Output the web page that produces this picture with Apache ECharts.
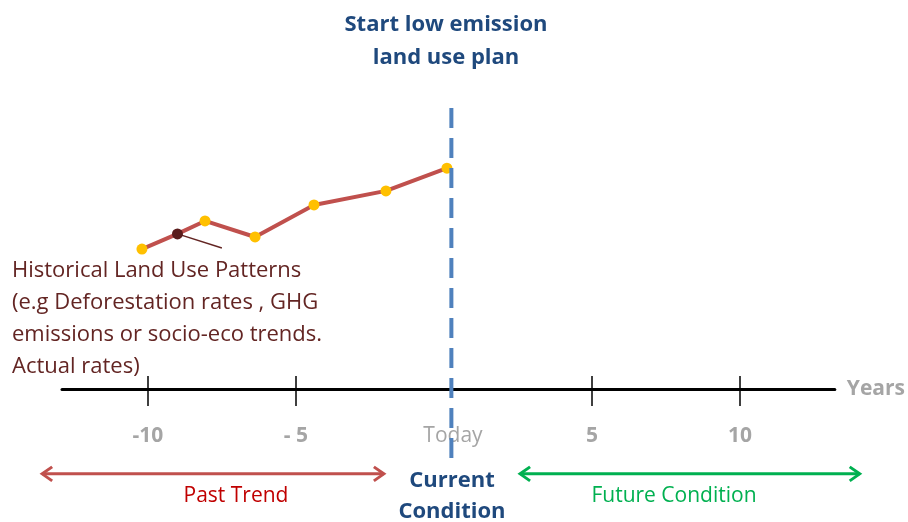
<!DOCTYPE html>
<html><head><meta charset="utf-8">
<script src="https://cdn.jsdelivr.net/npm/echarts@6/dist/echarts.min.js"></script>
<style>html,body{margin:0;padding:0;background:#fff}#c{width:908px;height:522px}</style>
</head><body><div id="c"></div>
<script>
// ---- data ----
const years = [-10.2, -9.0, -8.07, -6.38, -4.39, -1.96, 0.1];
const values = [49.8, 55.2, 59.8, 54.1, 65.5, 70.5, 78.6];
const tickValues = [-10, -5, 5, 10];
const labelValues = [-10, -5, 0, 5, 10];
const tickLabels = ['-10', '- 5', 'Today', '5', '10'];
const todayValue = 0;
const planStart = 0.25;
const highlightIndex = 1;
const pastRange = [-13.57, -2.03];
const futureRange = [2.57, 14.04];

const FONT = '"Open Sans", Lato, sans-serif';
const chart = echarts.init(document.getElementById('c'), null, {renderer: 'canvas'});

const xCommon = {type: 'value', min: -12.9, max: 13.2, splitLine: {show: false}};
chart.setOption({
  animation: false,
  grid: {left: 62, right: 73, top: 108, bottom: 133, containLabel: false},
  xAxis: [
    Object.assign({}, xCommon, {
      position: 'bottom',
      name: 'Years', nameLocation: 'end', nameGap: 12,
      nameTextStyle: {color: '#a5a5a5', fontSize: 21, fontWeight: 'bold', fontFamily: FONT, padding: [22, 0, 0, 0]},
      axisLine: {show: true, onZero: false, lineStyle: {color: '#000', width: 3}},
      axisTick: {show: true, inside: false, length: 17, customValues: tickValues, lineStyle: {color: '#000', width: 1.5}},
      axisLabel: {
        show: true, margin: 37, customValues: labelValues,
        color: '#a5a5a5', fontSize: 21, fontWeight: 'bold', fontFamily: FONT,
        formatter: function (v) {
          const i = labelValues.indexOf(v);
          const t = i >= 0 ? tickLabels[i] : '';
          return v === todayValue ? '{t|' + t + '}' : t;
        },
        rich: {t: {color: '#a5a5a5', fontSize: 21, fontWeight: 'normal', fontFamily: FONT, padding: [0, 0, 0, 18]}}
      }
    }),
    Object.assign({}, xCommon, {
      position: 'bottom',
      axisLine: {show: false, onZero: false},
      axisTick: {show: true, inside: true, length: 13, customValues: tickValues, lineStyle: {color: '#000', width: 1.5}},
      axisLabel: {show: false}
    })
  ],
  yAxis: {type: 'value', min: 0, max: 100, show: false, splitLine: {show: false}},
  series: [{
    type: 'line',
    xAxisIndex: 0,
    data: years.map((x, i) => ({
      value: [x, values[i]],
      itemStyle: {color: i === highlightIndex ? '#5a1c1c' : '#ffc000'}
    })),
    symbol: 'circle', symbolSize: 11, showSymbol: true,
    lineStyle: {color: '#c0504d', width: 4},
    itemStyle: {color: '#ffc000', borderWidth: 0},
    z: 3
  }]
});

function px(x, y) { return chart.convertToPixel({xAxisIndex: 0, yAxisIndex: 0}, [x, y]); }

function arrow(x1, x2, y, color) {
  const h = 10, w = 7;
  return [
    {type: 'line', shape: {x1: x1, y1: y, x2: x2, y2: y}, style: {stroke: color, lineWidth: 3}},
    {type: 'polyline', shape: {points: [[x1 + h, y - w], [x1, y], [x1 + h, y + w]]}, style: {stroke: color, lineWidth: 3, fill: null}},
    {type: 'polyline', shape: {points: [[x2 - h, y - w], [x2, y], [x2 - h, y + w]]}, style: {stroke: color, lineWidth: 3, fill: null}}
  ];
}

const arrowY = px(0, -30.2)[1];
const pa = [px(pastRange[0], 0)[0], px(pastRange[1], 0)[0]];
const fa = [px(futureRange[0], 0)[0], px(futureRange[1], 0)[0]];
const hp = px(years[highlightIndex], values[highlightIndex]);
const leaderEnd = px(-7.5, 50.2);
const dashTop = px(planStart, 100);
const dashBot = px(planStart, -27.4);

const graphics = [
  {type: 'line', z: 100, shape: {x1: dashTop[0], y1: dashTop[1], x2: dashBot[0], y2: dashBot[1]},
    style: {stroke: '#4f81bd', lineWidth: 4, lineDash: [20, 10]}},
  {type: 'text', x: 446, y: 25, style: {text: 'Start low emission', fill: '#1f497d', font: 'bold 22px ' + FONT, textAlign: 'center', textVerticalAlign: 'middle'}},
  {type: 'text', x: 446, y: 58, style: {text: 'land use plan', fill: '#1f497d', font: 'bold 22px ' + FONT, textAlign: 'center', textVerticalAlign: 'middle'}},
  {type: 'line', z: 2, shape: {x1: hp[0], y1: hp[1], x2: leaderEnd[0], y2: leaderEnd[1]}, style: {stroke: '#632523', lineWidth: 1.5}},
  {type: 'text', x: 12, y: 271, style: {text: 'Historical Land Use Patterns', fill: '#632523', font: '22px ' + FONT, textVerticalAlign: 'middle'}},
  {type: 'text', x: 12, y: 303, style: {text: '(e.g Deforestation rates , GHG', fill: '#632523', font: '22px ' + FONT, textVerticalAlign: 'middle'}},
  {type: 'text', x: 12, y: 335, style: {text: 'emissions or socio-eco trends.', fill: '#632523', font: '22px ' + FONT, textVerticalAlign: 'middle'}},
  {type: 'text', x: 12, y: 367, style: {text: 'Actual rates)', fill: '#632523', font: '22px ' + FONT, textVerticalAlign: 'middle'}},
  {type: 'text', x: 236, y: 496, style: {text: 'Past Trend', fill: '#c00000', font: '21px ' + FONT, textAlign: 'center', textVerticalAlign: 'middle'}},
  {type: 'text', x: 674, y: 496, style: {text: 'Future Condition', fill: '#00b050', font: '21px ' + FONT, textAlign: 'center', textVerticalAlign: 'middle'}},
  {type: 'text', x: 452, y: 481, z: 110, style: {text: 'Current', fill: '#1f497d', font: 'bold 22px ' + FONT, textAlign: 'center', textVerticalAlign: 'middle'}},
  {type: 'text', x: 452, y: 512, z: 110, style: {text: 'Condition', fill: '#1f497d', font: 'bold 22px ' + FONT, textAlign: 'center', textVerticalAlign: 'middle'}}
].concat(arrow(pa[0], pa[1], arrowY, '#c0504d'), arrow(fa[0], fa[1], arrowY, '#00b050'));

chart.setOption({graphic: graphics});
</script>
</body></html>
